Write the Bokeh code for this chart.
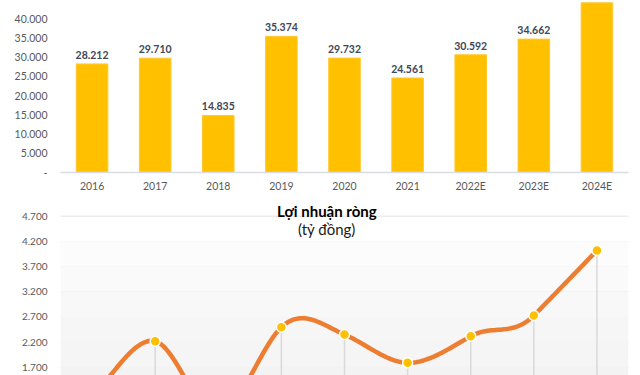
from bokeh.plotting import figure
from bokeh.models import FactorRange, Range1d, FixedTicker, CustomJSTickFormatter, Label
from bokeh.layouts import column
from bokeh.embed import file_html
from bokeh.resources import INLINE
from bokeh.core.properties import value

# ---- data ----
years = ["2016", "2017", "2018", "2019", "2020", "2021", "2022E", "2023E", "2024E"]
revenue = [28212, 29710, 14835, 35374, 29732, 24561, 30592, 34662, 44100]
profit = [1140, 2216, 750, 2495, 2349, 1786, 2316, 2728, 4023]
revenue_ticks = [0, 5000, 10000, 15000, 20000, 25000, 30000, 35000, 40000, 45000]
profit_ticks = [200, 700, 1200, 1700, 2200, 2700, 3200, 3700, 4200, 4700]
title_text = "Lợi nhuận ròng"
subtitle_text = "(tỷ đồng)"
# the 2024E value label lies above the visible crop of the reference
labelled_years = years[:-1]
labelled_revenue = revenue[:-1]


def vn(n):
    return f"{n:,}".replace(",", ".")


revenue_labels = [vn(v) for v in labelled_revenue]

fmt_js = """
if (tick == 0) { return "-"; }
return Math.round(tick).toString().replace(/\\B(?=(\\d{3})+(?!\\d))/g, ".");
"""

FONT = "Lato"
AXIS_COLOR = "#595959"

# ---- top: revenue bars ----
p1 = figure(x_range=FactorRange(*years), y_range=Range1d(0, 44700),
            width=640, height=196, output_backend="svg", toolbar_location=None,
            min_border_left=55, min_border_right=12, min_border_top=0, min_border_bottom=24)
p1.vbar(x=years, top=revenue, width=0.5, fill_color="#FFC000", line_color="#FFC82E", line_width=1)
p1.text(x=labelled_years, y=labelled_revenue, text=revenue_labels, text_align="center",
        text_baseline="bottom", y_offset=-5, text_font=value(FONT), text_font_style="bold",
        text_font_size="10.5px", text_color="#3E4856")
p1.outline_line_color = None
p1.xgrid.visible = False
p1.ygrid.visible = False
p1.yaxis.ticker = FixedTicker(ticks=revenue_ticks)
p1.yaxis.formatter = CustomJSTickFormatter(code=fmt_js)
p1.yaxis.axis_line_color = None
p1.yaxis.major_tick_line_color = None
p1.yaxis.minor_tick_line_color = None
p1.yaxis.major_tick_out = 0
p1.yaxis.major_tick_in = 0
p1.yaxis.major_label_standoff = 13
p1.yaxis.major_label_text_font = FONT
p1.yaxis.major_label_text_font_size = "10.5px"
p1.yaxis.major_label_text_color = AXIS_COLOR
p1.xaxis.axis_line_color = "#D9DDE3"
p1.xaxis.axis_line_width = 1.5
p1.xaxis.major_tick_line_color = None
p1.xaxis.major_tick_out = 0
p1.xaxis.major_tick_in = 0
p1.xaxis.major_label_standoff = 7
p1.xaxis.major_label_text_font = FONT
p1.xaxis.major_label_text_font_size = "10.5px"
p1.xaxis.major_label_text_color = AXIS_COLOR


# ---- bottom: net profit smoothed line ----
def smooth(vals, s=1.5, n=30):
    N = len(vals)
    m = []
    for i in range(N):
        if i == 0:
            m.append(vals[1] - vals[0])
        elif i == N - 1:
            m.append(vals[-1] - vals[-2])
        else:
            m.append(s * (vals[i + 1] - vals[i - 1]) / 2)
    xs, ys = [], []
    for i in range(N - 1):
        steps = n + 1 if i == N - 2 else n
        for k in range(steps):
            t = k / n
            h00 = 2 * t**3 - 3 * t**2 + 1
            h10 = t**3 - 2 * t**2 + t
            h01 = -2 * t**3 + 3 * t**2
            h11 = t**3 - t**2
            xs.append(i + 0.5 + t)
            ys.append(h00 * vals[i] + h10 * m[i] + h01 * vals[i + 1] + h11 * m[i + 1])
    return xs, ys


# frame spans from the title area (top) to the window bottom
p2 = figure(x_range=FactorRange(*years), y_range=Range1d(1533, 5100),
            width=640, height=179, output_backend="svg", toolbar_location=None,
            x_axis_location=None,
            min_border_left=60, min_border_right=11, min_border_top=0, min_border_bottom=0)
p2.outline_line_color = None
p2.background_fill_color = "#FFFFFF"

# subtle vertical gradient of the plot area, one band per tick interval
band_colors = ["#F1F1F1", "#F2F2F2", "#F3F3F3", "#F5F5F5", "#F6F6F6",
               "#F8F8F8", "#FAFAFA", "#FCFCFC", "#FFFFFF"]
p2.quad(left=0, right=len(years), bottom=profit_ticks[:-1], top=profit_ticks[1:],
        fill_color=band_colors, line_color=None)

p2.xgrid.visible = False
p2.ygrid.grid_line_color = "#D9D9D9"
p2.ygrid.grid_line_width = 1.5
p2.yaxis.ticker = FixedTicker(ticks=profit_ticks)
p2.ygrid.ticker = FixedTicker(ticks=profit_ticks)
p2.yaxis.formatter = CustomJSTickFormatter(code=fmt_js)
p2.yaxis.axis_line_color = None
p2.yaxis.major_tick_line_color = None
p2.yaxis.minor_tick_line_color = None
p2.yaxis.major_tick_out = 0
p2.yaxis.major_tick_in = 0
p2.yaxis.major_label_standoff = 13
p2.yaxis.major_label_text_font = FONT
p2.yaxis.major_label_text_font_size = "10px"
p2.yaxis.major_label_text_color = AXIS_COLOR

p2.segment(x0=years, y0=[profit_ticks[0]] * len(years), x1=years, y1=profit,
           line_color="#D9D9D9", line_width=1.5)
sx, sy = smooth(profit)
p2.line(sx, sy, line_color="#ED7D31", line_width=4.5, line_cap="round", line_join="round")
p2.scatter(x=years, y=profit, size=10, fill_color="#FFC000", line_color="white", line_width=1.5)

p2.add_layout(Label(x=4.22, y=profit_ticks[-1], text=title_text, text_align="center",
                    text_baseline="middle", y_offset=6, text_font=FONT, text_font_style="bold",
                    text_font_size="15px", text_color="#000000"))
p2.add_layout(Label(x=4.22, y=profit_ticks[-1], text=subtitle_text, text_align="center",
                    text_baseline="middle", y_offset=-12, text_font=FONT, text_font_size="15px",
                    text_color="#1A1A1A"))

layout = column(p1, p2)

open("out.html", "w").write(file_html(layout, INLINE))
